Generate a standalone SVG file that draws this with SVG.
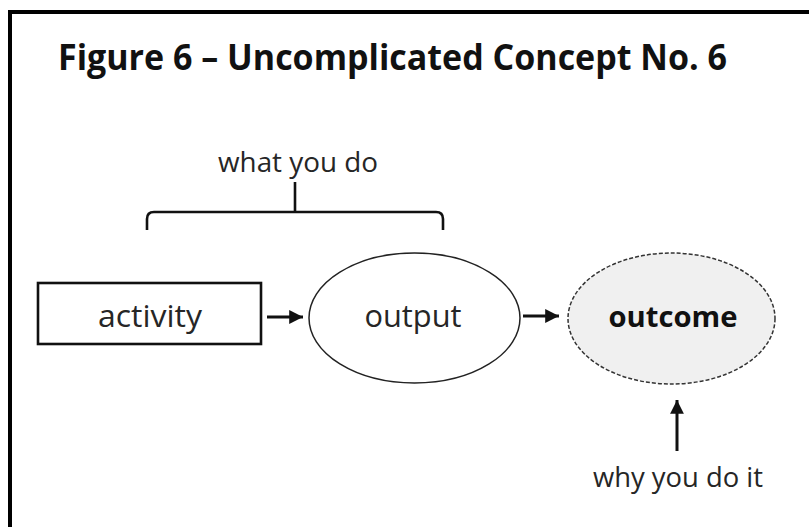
<svg xmlns="http://www.w3.org/2000/svg" width="809" height="527" viewBox="0 0 809 527">
  <style>
    .lbl { font-family: "Open Sans", "Liberation Sans", sans-serif; fill: #262626; text-anchor: middle; }
    .ttl { font-family: "Open Sans", "Liberation Sans", sans-serif; font-weight: bold; fill: #111; }
    .conn { stroke: #111; stroke-width: 3; fill: none; }
  </style>
  <defs>
    <marker id="ah" viewBox="0 0 10 10" refX="10" refY="5" markerWidth="4.6" markerHeight="4.6" orient="auto" markerUnits="strokeWidth">
      <path d="M0,0 L10,5 L0,10 z" fill="#111"/>
    </marker>
  </defs>
  <rect x="0" y="0" width="809" height="527" fill="#ffffff"/>
  <rect x="10" y="12" width="830" height="540" fill="none" stroke="#000" stroke-width="4"/>
  <text class="ttl" x="58" y="70" font-size="35" textLength="669" lengthAdjust="spacingAndGlyphs">Figure 6 – Uncomplicated Concept No. 6</text>

  <g id="bracket">
    <path d="M147,230 L147,219 Q147,212 154,212 L436,212 Q443,212 443,219 L443,230 M295,212 L295,182" stroke="#111" stroke-width="2.6" fill="none"/>
    <text class="lbl" x="298" y="172" font-size="27" textLength="160" lengthAdjust="spacingAndGlyphs">what you do</text>
  </g>

  <g id="activity">
    <rect x="38" y="283" width="223" height="61" fill="#fff" stroke="#111" stroke-width="2.6"/>
    <text class="lbl" x="150" y="327" font-size="31" textLength="104" lengthAdjust="spacingAndGlyphs">activity</text>
  </g>

  <g id="output">
    <ellipse cx="414.5" cy="318" rx="105.5" ry="65" fill="#fff" stroke="#222" stroke-width="1.5"/>
    <text class="lbl" x="413" y="327" font-size="31" textLength="97" lengthAdjust="spacingAndGlyphs">output</text>
  </g>

  <g id="outcome">
    <ellipse cx="671.5" cy="318.5" rx="103.5" ry="65.5" fill="#f0f0f0" stroke="#333" stroke-width="1.5" stroke-dasharray="4,2"/>
    <text class="lbl" x="673" y="327" font-size="29" font-weight="bold" style="fill:#111" textLength="129" lengthAdjust="spacingAndGlyphs">outcome</text>
  </g>

  <g id="why">
    <text class="lbl" x="678" y="487" font-size="27" textLength="170" lengthAdjust="spacingAndGlyphs">why you do it</text>
  </g>

  <g id="connectors">
    <line class="conn" x1="267" y1="317" x2="303" y2="317" marker-end="url(#ah)"/>
    <line class="conn" x1="523" y1="316" x2="559" y2="316" marker-end="url(#ah)"/>
    <line class="conn" x1="677" y1="451" x2="677" y2="400" marker-end="url(#ah)"/>
  </g>
</svg>
